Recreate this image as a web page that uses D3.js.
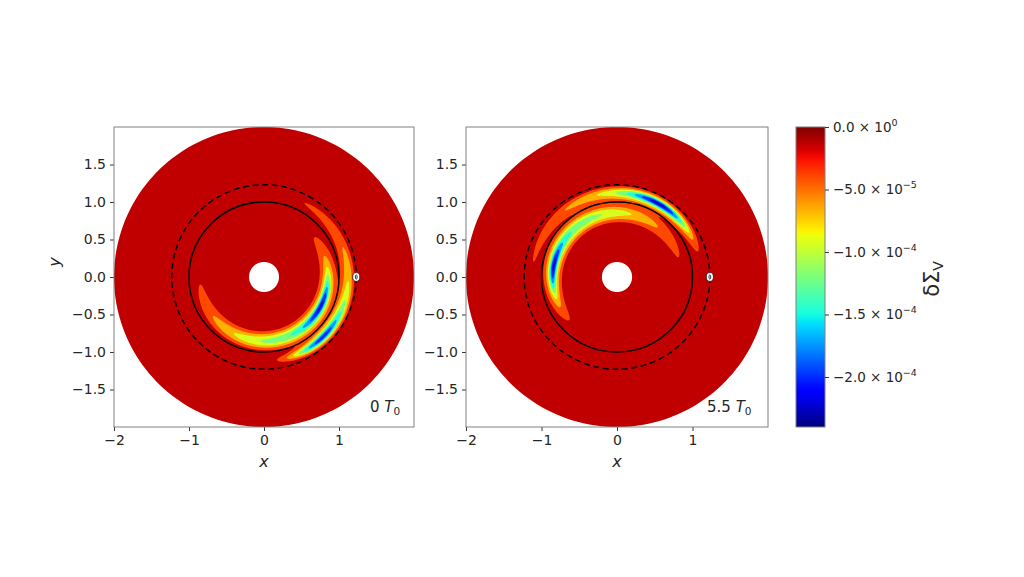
<!DOCTYPE html>
<html>
<head>
<meta charset="utf-8">
<script src="https://cdn.jsdelivr.net/npm/d3@7"></script>
<style>
  body { margin: 0; background: #fff; }
  text { font-family: "DejaVu Sans", sans-serif; fill: #262626; }
</style>
</head>
<body>
<svg id="chart" width="1024" height="577"></svg>
<script>
// ---- data ----
const panelTimes = ["0", "5.5"];
const xTicks = [-2, -1, 0, 1];
const yTicks = [-1.5, -1.0, -0.5, 0.0, 0.5, 1.0, 1.5];
const cbarTicks = [0, -5e-5, -1e-4, -1.5e-4, -2e-4];
const cbarMantissa = ["0.0", "−5.0", "−1.0", "−1.5", "−2.0"];
const cbarExponent = ["0", "−5", "−4", "−4", "−4"];
const vmin = -2.4e-4, vmax = 0, nBands = 9;
const diskRadii = [0.2, 2.0];
const orbitRadius = 1.0, dashedRadius = 1.23;
const markerX = 1.23;

// perturbation blobs, per panel: [inner broad, inner core, outer broad, outer core]
const blobAngle = [[-50, -25, -40, -50], [150, 172, 65, 58]];
const blobAmp = [[1.3e-4, 1.05e-4, 1.3e-4, 0.85e-4], [1.3e-4, 1.1e-4, 1.3e-4, 1.0e-4]];
const blobTail = [[98, 25, 58, 22], [105, 22, 60, 22]];
const blobHead = [[70, 25, 28, 22], [57, 22, 36, 22]];
const blobRadius = [0.855, 0.85, 1.125, 1.12];
const blobSigIn = [0.078, 0.03, 0.07, 0.03];
const blobSigOut = [0.072, 0.03, 0.052, 0.03];
const blobTailDir = [-1, -1, 1, 1];   // inner trails clockwise, outer counter-clockwise
const blobTailShape = [2, 2, 1, 2];   // gaussian or exponential tail

// ---- layout ----
const panels = [
  { x0: 114, x1: 414, annX: 370 },
  { x0: 466, x1: 768, annX: 707 }
];
const plotTop = 127, plotBottom = 427;
const cbar = { x0: 796, x1: 825 };

const svg = d3.select("#chart");

// jet colormap (matplotlib segment data)
const jr = d3.scaleLinear().domain([0, 0.35, 0.66, 0.89, 1]).range([0, 0, 1, 1, 0.5]).clamp(true);
const jg = d3.scaleLinear().domain([0, 0.125, 0.375, 0.64, 0.91, 1]).range([0, 0, 1, 1, 0, 0]).clamp(true);
const jb = d3.scaleLinear().domain([0, 0.11, 0.34, 0.65, 1]).range([0.5, 1, 1, 0, 0]).clamp(true);
const jet = t => d3.rgb(jr(t) * 255, jg(t) * 255, jb(t) * 255).formatHex();
const norm = d3.scaleLinear().domain([vmin, vmax]).range([0, 1]);

const step = (vmax - vmin) / nBands;
const thresholds = d3.range(1, nBands).map(k => k * step);
const bandColor = k => jet(norm(-(k + 0.5) * step));

// depth of the depletion (positive) at a point
function field(p, x, y) {
  const r = Math.hypot(x, y);
  const th = Math.atan2(y, x) * 180 / Math.PI;
  let v = 0;
  for (let k = 0; k < blobRadius.length; k++) {
    const phi = (((th - blobAngle[p][k]) % 360) + 540) % 360 - 180;
    let ang;
    if (phi * blobTailDir[k] > 0) {
      const a = Math.abs(phi);
      ang = blobTailShape[k] === 2
        ? Math.exp(-Math.pow(a / blobTail[p][k], 2))
        : Math.exp(-(Math.hypot(a, 10) - 10) / blobTail[p][k]);
    } else {
      ang = Math.exp(-Math.pow(phi / blobHead[p][k], 2));
    }
    const dr = r - blobRadius[k];
    const s = dr < 0 ? blobSigIn[k] : blobSigOut[k];
    v += blobAmp[p][k] * ang * Math.exp(-0.5 * (dr / s) * (dr / s));
  }
  return v;
}

const n = 321, h = 4 / (n - 1);

panels.forEach((P, p) => {
  const x = d3.scaleLinear().domain([-2, 2]).range([P.x0, P.x1]);
  const y = d3.scaleLinear().domain([-2, 2]).range([plotBottom, plotTop]);
  const g = svg.append("g");

  // annulus clip
  const ring = rr => d3.range(0, 361, 2).map(a => [x(rr * Math.cos(a * Math.PI / 180)), y(rr * Math.sin(a * Math.PI / 180))]);
  const line = d3.line();
  const annulus = line(ring(diskRadii[1])) + "Z" + line(ring(diskRadii[0])) + "Z";
  g.append("clipPath").attr("id", "clip" + p)
    .append("path").attr("d", annulus).attr("clip-rule", "evenodd");

  g.append("path").attr("d", annulus).attr("fill-rule", "evenodd").attr("fill", bandColor(0));

  // grid + filled contours
  const values = new Float64Array(n * n);
  for (let j = 0; j < n; j++)
    for (let i = 0; i < n; i++)
      values[j * n + i] = field(p, -2 + i * h, 2 - j * h);

  const proj = d3.geoTransform({
    point: function (cx, cy) {
      this.stream.point(x(-2 + (cx - 0.5) * h), y(2 - (cy - 0.5) * h));
    }
  });
  const contours = d3.contours().size([n, n]).thresholds(thresholds)(values);
  g.append("g").attr("clip-path", `url(#clip${p})`)
    .selectAll("path").data(contours).join("path")
    .attr("d", d3.geoPath(proj))
    .attr("fill", (d, i) => bandColor(i + 1));

  // orbit circles
  g.append("ellipse").attr("cx", x(0)).attr("cy", y(0))
    .attr("rx", x(orbitRadius) - x(0)).attr("ry", y(0) - y(orbitRadius))
    .attr("fill", "none").attr("stroke", "#000").attr("stroke-width", 1.5);
  g.append("ellipse").attr("cx", x(0)).attr("cy", y(0))
    .attr("rx", x(dashedRadius) - x(0)).attr("ry", y(0) - y(dashedRadius))
    .attr("fill", "none").attr("stroke", "#000").attr("stroke-width", 1.5)
    .attr("stroke-dasharray", "6,3.6");
  g.append("ellipse").attr("cx", x(markerX)).attr("cy", y(0))
    .attr("rx", 3.6).attr("ry", 4.4)
    .attr("fill", "#fff").attr("stroke", "#222").attr("stroke-width", 0.9);
  g.append("ellipse").attr("cx", x(markerX)).attr("cy", y(0))
    .attr("rx", 0.9).attr("ry", 2.2)
    .attr("fill", "none").attr("stroke", "#222").attr("stroke-width", 0.9);

  // axes
  const xa = g.append("g").attr("transform", `translate(0,${plotBottom})`)
    .call(d3.axisBottom(x).tickValues(xTicks).tickSize(4).tickPadding(4).tickFormat(d3.format("d")));
  const ya = g.append("g").attr("transform", `translate(${P.x0},0)`)
    .call(d3.axisLeft(y).tickValues(yTicks).tickSize(4).tickPadding(4).tickFormat(d3.format(".1f")));
  [xa, ya].forEach(a => {
    a.select(".domain").remove();
    a.selectAll(".tick line").attr("stroke", "#333");
    a.selectAll("text").attr("font-size", 14).attr("font-family", "DejaVu Sans").attr("fill", "#222");
  });

  g.append("rect").attr("x", P.x0).attr("y", plotTop)
    .attr("width", P.x1 - P.x0).attr("height", plotBottom - plotTop)
    .attr("fill", "none").attr("stroke", "#808080").attr("stroke-width", 1);

  g.append("text").attr("x", x(0)).attr("y", 467).attr("text-anchor", "middle")
    .attr("font-size", 16).attr("font-style", "italic").text("x");

  const ann = g.append("text").attr("x", P.annX).attr("y", 412).attr("font-size", 15);
  ann.append("tspan").text(panelTimes[p] + " ");
  ann.append("tspan").attr("font-style", "italic").text("T");
  ann.append("tspan").attr("font-size", 10.5).attr("dy", 3).text("0");

  if (p === 0) {
    svg.append("text").attr("transform", `translate(60,262) rotate(-90)`)
      .attr("text-anchor", "middle").attr("font-size", 16).attr("font-style", "italic").text("y");
  }
});

// ---- colorbar ----
const cy = d3.scaleLinear().domain([vmin, vmax]).range([plotBottom, plotTop]);
const grad = svg.append("defs").append("linearGradient").attr("id", "jetgrad")
  .attr("x1", 0).attr("y1", 1).attr("x2", 0).attr("y2", 0);
grad.selectAll("stop").data(d3.range(0, 1.0001, 0.02)).join("stop")
  .attr("offset", d => d).attr("stop-color", d => jet(d));
svg.append("rect").attr("x", cbar.x0).attr("y", plotTop)
  .attr("width", cbar.x1 - cbar.x0).attr("height", plotBottom - plotTop)
  .attr("fill", "url(#jetgrad)").attr("stroke", "#808080").attr("stroke-width", 1);

const ca = svg.append("g").attr("transform", `translate(${cbar.x1},0)`)
  .call(d3.axisRight(cy).tickValues(cbarTicks).tickSize(4).tickPadding(4).tickFormat(""));
ca.select(".domain").remove();
ca.selectAll(".tick line").attr("stroke", "#333");
ca.selectAll(".tick text").each(function (d, i) {
  const t = d3.select(this).attr("font-size", 13.5).attr("font-family", "DejaVu Sans").attr("fill", "#222");
  t.append("tspan").text(cbarMantissa[i] + " × 10");
  t.append("tspan").attr("font-size", 9.5).attr("dy", -6).text(cbarExponent[i]);
});

const cl = svg.append("text").attr("transform", `translate(939,279) rotate(-90)`)
  .attr("text-anchor", "middle").attr("font-size", 21);
cl.append("tspan").text("δΣ");
cl.append("tspan").attr("font-size", 14).attr("dy", 4).text("V");
</script>
</body>
</html>
